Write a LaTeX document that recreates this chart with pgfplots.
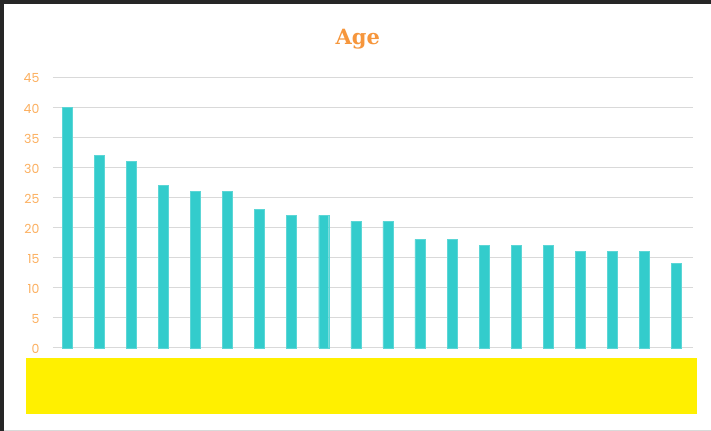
\documentclass[border=0pt]{standalone}
\usepackage{pgfplots}
\pgfplotsset{compat=1.18}
\usepackage{fontspec}
\setmainfont{Poppins}
\newfontfamily\titlefont{DejaVu Serif}
\definecolor{barc}{RGB}{51,204,204}
\definecolor{orng}{RGB}{252,176,96}
\definecolor{ttl}{RGB}{246,150,60}
\definecolor{gridc}{RGB}{217,217,217}
\definecolor{frame}{RGB}{38,38,38}
\definecolor{ylw}{RGB}{255,240,0}
\begin{document}
\begin{tikzpicture}[x=1pt,y=1pt]
\fill[white] (0,0) rectangle (711,431);
\fill[frame] (0,427) rectangle (711,431);
\fill[frame] (0,0) rectangle (4,431);
\draw[gridc, line width=0.8pt] (4,0.5) -- (711,0.5);
\begin{axis}[
  at={(53pt,83pt)}, anchor=south west,
  scale only axis, width=640pt, height=271pt,
  xmin=-0.44, xmax=19.5, ymin=0, ymax=45,
  ytick={0,5,...,45},
  xtick=\empty,
  axis x line=none, axis y line*=left,
  y axis line style={draw=none},
  major tick length=0pt,
  ymajorgrids, grid style={gridc, line width=0.9pt},
  yticklabel style={font=\fontsize{12.5}{14}\selectfont, text=orng, xshift=-10pt, yshift=-1.5pt},
  /pgf/number format/assume math mode=true,
  ybar, bar width=10pt,
  clip=false,
]
\addplot[fill=barc, draw=barc!80!white, line width=0.4pt, bar shift=0pt] coordinates {
(0,40) (1,32) (2,31) (3,27) (4,26) (5,26) (6,23) (7,22) (8,22) (9,21)
(10,21) (11,18) (12,18) (13,17) (14,17) (15,17) (16,16) (17,16) (18,16) (19,14)
};
\end{axis}
\fill[ylw] (26,17) rectangle (697,73);
\node[font=\titlefont\bfseries\fontsize{21}{24}\selectfont, text=ttl] at (358,392) {Age};
\end{tikzpicture}
\end{document}
